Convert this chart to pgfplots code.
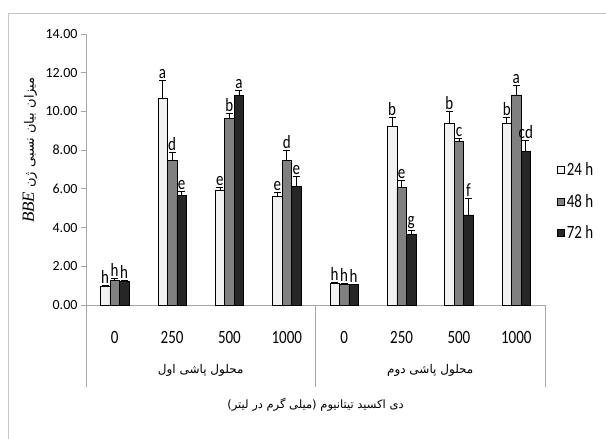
\documentclass[border=0pt]{standalone}
\usepackage{fontspec}
\setmainfont{Carlito}
\newfontfamily\fa[Script=Arabic]{DejaVu Sans}
\newfontfamily\tnr{Liberation Serif}
\TeXXeTstate=1
\usepackage{pgfplots}
\pgfplotsset{compat=1.18}
\usepackage{pgfplotstable}

\definecolor{c24}{HTML}{F2F2F2}
\definecolor{c48}{HTML}{808080}
\definecolor{c72}{HTML}{262626}
\definecolor{axgray}{HTML}{A6A6A6}

\newcommand{\vs}[1]{\scalebox{1}[1.25]{#1}}

% x: 0-3 first spraying (0,250,500,1000), 4-7 second spraying
\pgfplotstableread{
x y e l
0 0.98 0.04 h
1 10.67 0.95 a
2 5.94 0.12 e
3 5.60 0.20 e
4 1.12 0.04 h
5 9.21 0.48 b
6 9.38 0.64 b
7 9.38 0.31 b
}\tA
\pgfplotstableread{
x y e l
0 1.26 0.12 h
1 7.49 0.40 d
2 9.66 0.24 b
3 7.49 0.48 d
4 1.05 0.08 h
5 6.06 0.36 e
6 8.44 0.16 c
7 10.86 0.50 a
}\tB
\pgfplotstableread{
x y e l
0 1.22 0.04 h
1 5.65 0.20 e
2 10.81 0.28 a
3 6.11 0.52 e
4 1.05 0.03 h
5 3.63 0.24 g
6 4.65 0.85 f
7 7.92 0.57 cd
}\tC

\pgfplotsset{
  letterbar/.style={
    draw=black, line width=0.5pt,
    nodes near coords={\vs{\pgfplotspointmeta}},
    point meta=explicit symbolic,
    visualization depends on={\thisrow{e} \as \err},
    every node near coord/.append style={font=\fontsize{15}{17}\selectfont, black,
        anchor=south, inner sep=1.5pt, shift={(axis direction cs:0,\err)}},
    error bars/.cd, y dir=plus, y explicit,
  },
}

\begin{document}
\begin{tikzpicture}
\path[use as bounding box] (0pt,0pt) rectangle (606pt,439pt);
\draw[gray!45, line width=0.8pt] (8pt,-2pt) -- (8pt,426pt) -- (608pt,426pt);
\begin{axis}[
    at={(86pt,134pt)}, anchor=south west,
    scale only axis, width=459pt, height=271pt,
    ybar=0pt, bar width=9.5pt,
    xmin=-0.5, xmax=7.5, ymin=0, ymax=14,
    clip=false,
    axis lines*=left,
    axis line style={axgray, line width=0.8pt},
    ytick={0,2,...,14},
    yticklabel style={font=\fontsize{14}{16}\selectfont,
        /pgf/number format/.cd, fixed, fixed zerofill, precision=2, assume math mode=true},
    ytick style={axgray, line width=0.8pt},
    major tick length=5pt,
    tick align=outside,
    xtick={0,...,7},
    xticklabels={\vs{0},\vs{250},\vs{500},\vs{1000},\vs{0},\vs{250},\vs{500},\vs{1000}},
    x tick style={draw=none},
    xticklabel style={font=\fontsize{15}{17}\selectfont, anchor=center, yshift=-27pt},
    legend image code/.code={\draw[#1, draw=black, line width=0.5pt] (0pt,-3.5pt) rectangle (7pt,3.5pt);},
    legend style={at={(axis description cs:1.02,0.54)}, anchor=north west,
        draw=none, fill=none, font=\fontsize{15}{17}\selectfont,
        row sep=13pt, cells={anchor=west}},
    error bars/error bar style={black, line width=0.7pt},
    error bars/error mark options={black, line width=0.7pt, mark size=3.5pt, rotate=90},
]
\addplot[fill=c24, letterbar] table[x=x, y=y, y error=e, meta=l] {\tA};
\addplot[fill=c48, letterbar] table[x=x, y=y, y error=e, meta=l] {\tB};
\addplot[fill=c72, letterbar] table[x=x, y=y, y error=e, meta=l] {\tC};
\legend{\vs{24 h}, \vs{48 h}, \vs{72 h}}
\end{axis}
% category separators and group labels
\draw[axgray, line width=0.8pt] (86pt,134pt) -- (86pt,52pt);
\draw[axgray, line width=0.8pt] (315.5pt,134pt) -- (315.5pt,52pt);
\draw[axgray, line width=0.8pt] (545pt,134pt) -- (545pt,52pt);
\node[font=\fontsize{12}{14}\selectfont] at (200.75pt,69pt) {\fa\beginR محلول پاشی اول\endR};
\node[font=\fontsize{12}{14}\selectfont] at (430.25pt,69pt) {\fa\beginR محلول پاشی دوم\endR};
\node[font=\fontsize{11.5}{14}\selectfont] at (315.5pt,34pt) {\fa\beginR دی اکسید تیتانیوم (میلی گرم در لیتر)\endR};
\node[rotate=90, font=\fontsize{13}{15}\selectfont] at (30pt,289pt)
    {\fa\beginR میزان بیان نسبی ژن \beginL{\tnr\itshape\fontsize{17}{19}\selectfont BBE}\endL\endR};
\end{tikzpicture}
\end{document}
